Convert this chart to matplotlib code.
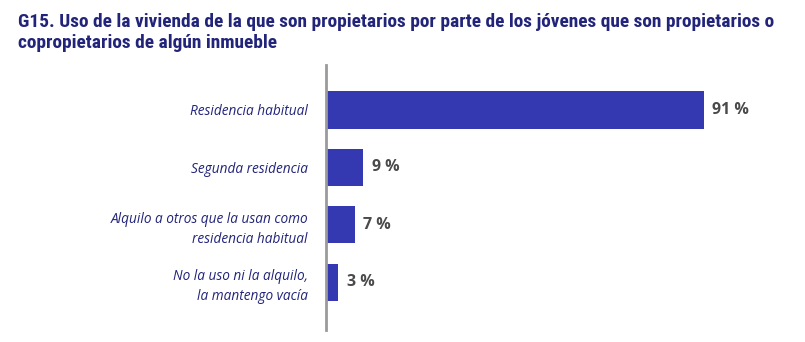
import matplotlib.pyplot as plt
from matplotlib import font_manager

categorias = [
    'Residencia habitual',
    'Segunda residencia',
    'Alquilo a otros que la usan como\nresidencia habitual',
    'No la uso ni la alquilo,\nla mantengo vacía',
]
porcentajes = [91, 9, 7, 3]

titulo = ('G15. Uso de la vivienda de la que son propietarios por parte de los jóvenes que son propietarios o\n'
          'copropietarios de algún inmueble')

nombres = {f.name for f in font_manager.fontManager.ttflist}
fuente_titulo = 'Open Sans'
for cand in ['Liberation Sans Narrow', 'DejaVu Sans Condensed', 'Roboto Condensed']:
    if cand in nombres:
        fuente_titulo = cand
        break

azul = '#3438b1'
marino = '#22247a'
gris = '#4a4a4a'

fig = plt.figure(figsize=(8.05, 3.42), dpi=100)
ax = fig.add_axes([326 / 805, 12 / 342, 415.5 / 805, 265 / 342])

pos = list(range(len(categorias)))
ax.barh(pos, porcentajes, height=0.65, color=azul)

for y, v in zip(pos, porcentajes):
    ax.text(v + 2, y, f'{v} %', va='center', ha='left', fontsize=11.5,
            fontweight='bold', color=gris, family='Open Sans')

ax.set_yticks(pos)
ax.set_yticklabels(categorias, fontsize=9.8, style='italic', color=marino,
                   family='Open Sans', fontweight='medium', linespacing=1.45)
ax.tick_params(axis='y', length=0, pad=13)
ax.set_xlim(0, 100)
ax.set_ylim(3.83, -0.78)
ax.set_xticks([])

for s in ['top', 'right', 'bottom']:
    ax.spines[s].set_visible(False)
ax.spines['left'].set_color('#9a9a9a')
ax.spines['left'].set_linewidth(2)

t = fig.text(18 / 805, 1 - 13 / 342, titulo, ha='left', va='top', fontsize=13.5,
             color=marino, family=fuente_titulo, fontweight='semibold', linespacing=1.25)

# ajustar el tamaño del título al ancho disponible
r = fig.canvas.get_renderer()
ancho = t.get_window_extent(r).width
t.set_fontsize(13.5 * 757 / ancho)

fig.savefig('out.png', dpi=100)
